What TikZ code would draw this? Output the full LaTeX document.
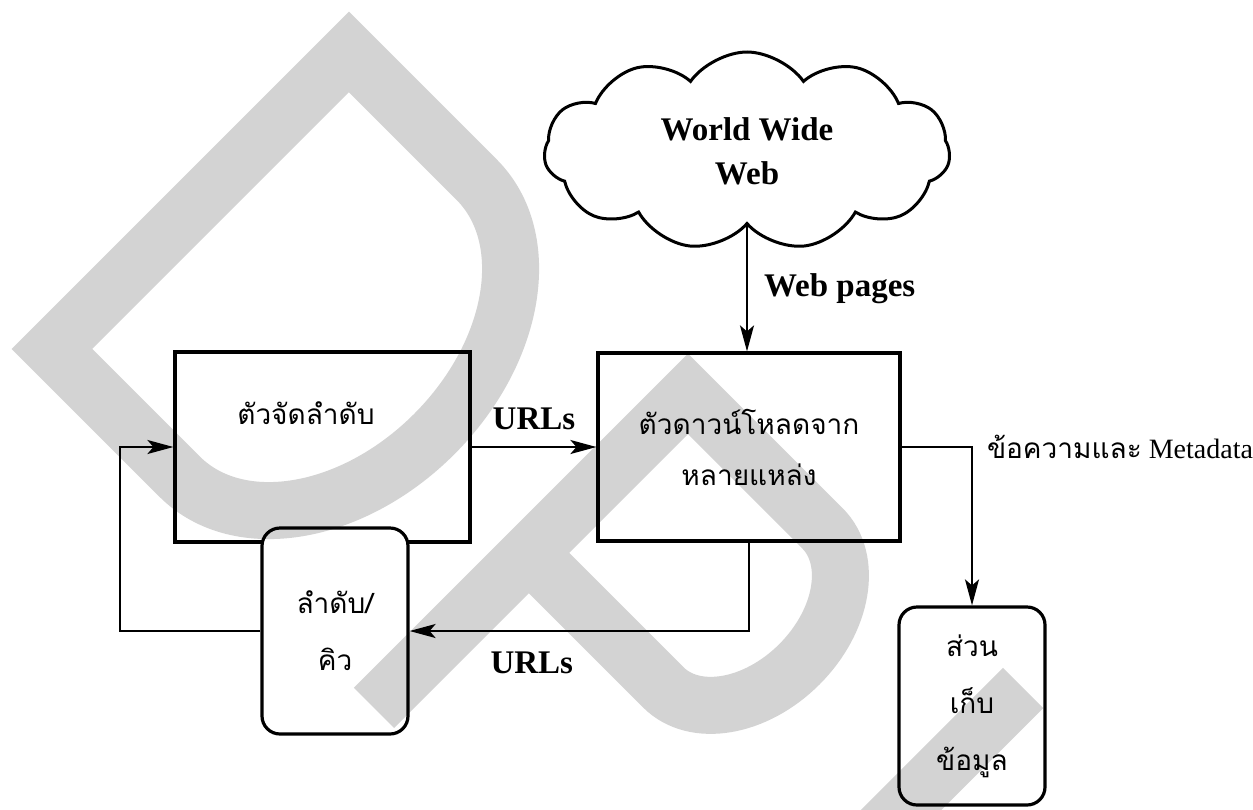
\documentclass[tikz,border=0pt]{standalone}
\usepackage{fontspec}
\setmainfont{Liberation Serif}
\newfontfamily\thaifont[Script=Thai]{Loma}
\usepackage{tikz}
\usetikzlibrary{positioning,arrows.meta,shapes.symbols}
\definecolor{wmgrey}{RGB}{211,211,211}
\tikzstyle{plainnode}=[draw=none,fill=none,inner sep=0pt]
\tikzstyle{boxnode}=[draw, rectangle, line width=1.6pt, align=center]
\tikzstyle{roundnode}=[draw, fill=white, rectangle, rounded corners=9pt, line width=1.6pt, align=center]
\tikzstyle{thaitext}=[font=\thaifont\fontsize{14}{28.5}\selectfont]
\tikzstyle{boldlabel}=[font=\bfseries\fontsize{16.5}{22}\selectfont]
\tikzstyle{wmstroke}=[draw=wmgrey, line width=28.5pt, line join=miter]

\begin{document}
\begin{tikzpicture}[x=0.5pt, y=-0.5pt, line width=1pt, >={Stealth[length=13pt,width=7pt,inset=3pt]}]
\useasboundingbox (0,0) rectangle (1253,809);

\node[cloud, draw, cloud puffs=11, cloud puff arc=110, aspect=2, line width=1.5pt, minimum width=203pt, minimum height=99pt, boldlabel, align=center] (www) at (747,151) {World Wide\\Web};
\node[boxnode, minimum width=147.5pt, minimum height=95pt] (sched) at (322.5,447) {};
\node[plainnode, thaitext] (schedtext) at (306,413) {ตัวจัดลำดับ};
\node[boxnode, thaitext, minimum width=151pt, minimum height=94pt] (dl) at (749,447) {ตัวดาวน์โหลดจาก\\[-3pt]หลายแหล่ง};
\node[roundnode, thaitext, minimum width=73pt, minimum height=103pt] (queue) at (335,631) {ลำดับ/\\คิว};
\node[roundnode, thaitext, minimum width=73pt, minimum height=99pt] (store) at (972,706) {ส่วน\\เก็บ\\ข้อมูล};
\coordinate (loopturn) at (120,631);

\draw[->] (www.south) -- (www.south |- dl.north) node[plainnode, boldlabel, midway, right=8pt] (pages) {Web pages};
\draw[->] (sched.east) -- (dl.west) node[plainnode, boldlabel, midway, above=8pt] (urlsfwd) {URLs};
\draw[->] (dl.south) |- (queue.east) node[plainnode, boldlabel, pos=0.82, below=10pt] (urlsback) {URLs};
\draw[->] (queue.west) -- (loopturn) |- (sched.west);
\draw[->] (dl.east) -| (store.north) node[plainnode, pos=0.5, anchor=west, xshift=7pt, font=\fontsize{14}{16}\selectfont] (msglabel) {{\thaifont ข้อความและ} Metadata};

% grey letters laid over the chart along the diagonal (multiply keeps black lines black)
\begin{scope}[blend mode=multiply]
\clip (0,0) rectangle (1253,809);
\begin{scope}[x={(0.35355pt,-0.35355pt)}, y={(0.35355pt,0.35355pt)}]
\draw[wmstroke] (283.5,-210) -- (283.5,210) -- (464,210) arc[start angle=90, end angle=-90, x radius=150, y radius=210] -- cycle;
\draw[wmstroke] (765,-236) -- (765,208) -- (955,208) arc[start angle=90, end angle=-90, x radius=80, y radius=112.5] -- (765,-17);
\draw[wmstroke] (1210,237) -- (1210,0) arc[start angle=180, end angle=360, radius=210] -- (1630,237);
\end{scope}
\end{scope}
\end{tikzpicture}
\end{document}
